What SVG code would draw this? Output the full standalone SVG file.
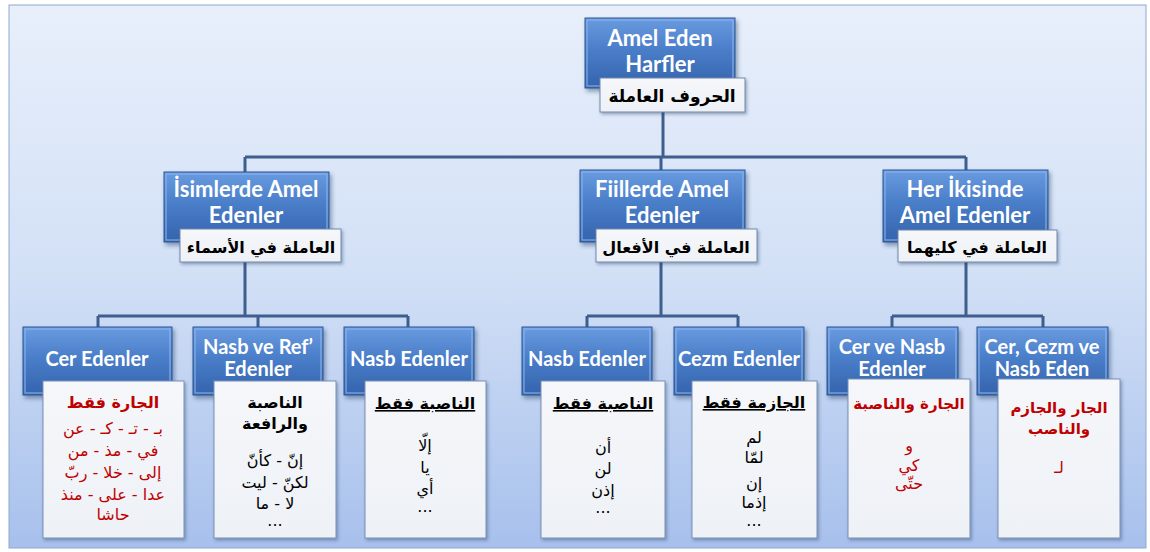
<svg xmlns="http://www.w3.org/2000/svg" width="1150" height="552" viewBox="0 0 1150 552">
<defs>
<linearGradient id="bg" x1="0" y1="0" x2="0" y2="1">
<stop offset="0" stop-color="#e8effb"/>
<stop offset="0.5" stop-color="#d2e0f6"/>
<stop offset="1" stop-color="#a7c0ec"/>
</linearGradient>
<linearGradient id="blue" x1="0" y1="0" x2="0" y2="1">
<stop offset="0" stop-color="#6a9be0"/>
<stop offset="0.45" stop-color="#4a7ec9"/>
<stop offset="1" stop-color="#3463ac"/>
</linearGradient>
<linearGradient id="panel" x1="0" y1="0" x2="0" y2="1">
<stop offset="0" stop-color="#f5f7fa"/>
<stop offset="1" stop-color="#eef1f6"/>
</linearGradient>
<filter id="sh" x="-10%" y="-10%" width="125%" height="130%">
<feDropShadow dx="2" dy="3" stdDeviation="2" flood-color="#1d3558" flood-opacity="0.45"/>
</filter>
<filter id="sh2" x="-10%" y="-10%" width="125%" height="130%">
<feDropShadow dx="1.5" dy="2" stdDeviation="1.5" flood-color="#2a3f60" flood-opacity="0.4"/>
</filter>
</defs>
<style>
.bx{fill:url(#blue);stroke:#2c5896;stroke-width:1;filter:url(#sh)}
.hl{fill:none;stroke:#8db5ee;stroke-width:1.5;stroke-opacity:0.7}
.lb{fill:url(#panel);stroke:#6f87ad;stroke-width:1;filter:url(#sh2)}
.pn{fill:url(#panel);stroke:#7890b5;stroke-width:1;filter:url(#sh2)}
.t{font-family:Lato,"Open Sans","Liberation Sans",sans-serif;font-weight:bold;fill:#ffffff;text-anchor:middle}
.t1{font-size:22px}
.t2{font-size:20px}
.ar{font-family:"DejaVu Sans","Noto Sans",sans-serif;text-anchor:middle;fill:#000000}
.a1{font-weight:bold;font-size:17px}
.a2{font-weight:bold;font-size:16px}
.ah{font-weight:bold;font-size:16px}
.ah2{font-weight:bold;font-size:15px}
.ab{font-size:16px}
.red{fill:#c00000}
.ul{text-decoration:underline}
.cn{fill:none;stroke:#3e5e8e;stroke-width:3}
</style>
<rect x="0" y="0" width="1150" height="552" fill="#ffffff"/>
<rect x="9" y="5" width="1137" height="543" fill="url(#bg)" stroke="#8fa8d0" stroke-width="1"/>

<g id="connectors" class="cn">
<path d="M663 112V157M245 157H966M245 157V172M661 157V170M966 157V170"/>
<path d="M245 262V316M661 262V316M966 262V316"/>
<path d="M98 316H408M98 316V327M258 316V327M408 316V327"/>
<path d="M587 316H738M587 316V327M738 316V327"/>
<path d="M892 316H1043M892 316V327M1043 316V327"/>
</g>

<g id="n-root">
<rect class="bx" x="585" y="18" width="150" height="70"/>
<rect class="hl" x="587" y="20" width="146" height="66"/>
<text class="t t1" x="660" y="46">Amel Eden</text>
<text class="t t1" x="660" y="72">Harfler</text>
<rect class="lb" x="600" y="78" width="145" height="34"/>
<text class="ar a1" x="672" y="102">الحروف العاملة</text>
</g>

<g id="n-isim">
<rect class="bx" x="164" y="172" width="165" height="70"/>
<rect class="hl" x="166" y="174" width="161" height="66"/>
<text class="t t1" x="246" y="197">İsimlerde Amel</text>
<text class="t t1" x="246" y="223">Edenler</text>
<rect class="lb" x="180" y="229" width="161" height="33"/>
<text class="ar a2" x="261" y="253">العاملة في الأسماء</text>
</g>

<g id="n-fiil">
<rect class="bx" x="580" y="170" width="165" height="72"/>
<rect class="hl" x="582" y="172" width="161" height="68"/>
<text class="t t1" x="662" y="197">Fiillerde Amel</text>
<text class="t t1" x="662" y="223">Edenler</text>
<rect class="lb" x="596" y="229" width="161" height="33"/>
<text class="ar a2" x="676" y="253">العاملة في الأفعال</text>
</g>

<g id="n-her">
<rect class="bx" x="883" y="170" width="165" height="72"/>
<rect class="hl" x="885" y="172" width="161" height="68"/>
<text class="t t1" x="965" y="197">Her İkisinde</text>
<text class="t t1" x="965" y="223">Amel Edenler</text>
<rect class="lb" x="898" y="230" width="159" height="32"/>
<text class="ar a2" x="977" y="253">العاملة في كليهما</text>
</g>

<g id="n-cer">
<rect class="bx" x="23" y="327" width="149" height="68"/>
<rect class="hl" x="25" y="329" width="145" height="64"/>
<text class="t t2" x="97" y="366">Cer Edenler</text>
<rect class="pn" x="43" y="381" width="141" height="157"/>
<text class="ar ah red" x="113" y="408">الجارة فقط</text>
<text class="ar ab red" x="113" y="434">بـ - تـ - كـ - عن</text>
<text class="ar ab red" x="113" y="456">في - مذ - من</text>
<text class="ar ab red" x="113" y="478">إلى - خلا - ربّ</text>
<text class="ar ab red" x="113" y="500">عدا - على - منذ</text>
<text class="ar ab red" x="113" y="520">حاشا</text>
</g>

<g id="n-nasbref">
<rect class="bx" x="193" y="327" width="130" height="68"/>
<rect class="hl" x="195" y="329" width="126" height="64"/>
<text class="t t2" x="258" y="354">Nasb ve Ref’</text>
<text class="t t2" x="258" y="376">Edenler</text>
<rect class="pn" x="214" y="381" width="122" height="157"/>
<text class="ar ah" x="275" y="408">الناصبة</text>
<text class="ar ah" x="275" y="429">والرافعة</text>
<text class="ar ab" x="275" y="466">إنّ - كأنّ</text>
<text class="ar ab" x="275" y="488">لكنّ - ليت</text>
<text class="ar ab" x="275" y="509">لا - ما</text>
<text class="ar ab" x="275" y="526">...</text>
</g>

<g id="n-nasb1">
<rect class="bx" x="344" y="327" width="130" height="68"/>
<rect class="hl" x="346" y="329" width="126" height="64"/>
<text class="t t2" x="409" y="366">Nasb Edenler</text>
<rect class="pn" x="365" y="381" width="121" height="157"/>
<text class="ar ah ul" x="425" y="409">الناصبة فقط</text>
<text class="ar ab" x="425" y="451">إلّا</text>
<text class="ar ab" x="425" y="473">يا</text>
<text class="ar ab" x="425" y="494">أي</text>
<text class="ar ab" x="425" y="512">...</text>
</g>

<g id="n-nasb2">
<rect class="bx" x="522" y="327" width="130" height="68"/>
<rect class="hl" x="524" y="329" width="126" height="64"/>
<text class="t t2" x="587" y="366">Nasb Edenler</text>
<rect class="pn" x="541" y="381" width="124" height="157"/>
<text class="ar ah ul" x="603" y="409">الناصبة فقط</text>
<text class="ar ab" x="603" y="453">أن</text>
<text class="ar ab" x="603" y="474">لن</text>
<text class="ar ab" x="603" y="496">إذن</text>
<text class="ar ab" x="603" y="513">...</text>
</g>

<g id="n-cezm">
<rect class="bx" x="674" y="327" width="130" height="68"/>
<rect class="hl" x="676" y="329" width="126" height="64"/>
<text class="t t2" x="739" y="366">Cezm Edenler</text>
<rect class="pn" x="692" y="381" width="125" height="157"/>
<text class="ar ah ul" x="754" y="408">الجازمة فقط</text>
<text class="ar ab" x="754" y="443">لم</text>
<text class="ar ab" x="754" y="463">لمّا</text>
<text class="ar ab" x="754" y="489">إن</text>
<text class="ar ab" x="754" y="508">إذما</text>
<text class="ar ab" x="754" y="526">...</text>
</g>

<g id="n-cernasb">
<rect class="bx" x="827" y="327" width="131" height="68"/>
<rect class="hl" x="829" y="329" width="127" height="64"/>
<text class="t t2" x="892" y="354">Cer ve Nasb</text>
<text class="t t2" x="892" y="376">Edenler</text>
<rect class="pn" x="848" y="379" width="122" height="159"/>
<text class="ar ah2 red" x="909" y="409">الجارة والناصبة</text>
<text class="ar ab red" x="909" y="451">و</text>
<text class="ar ab red" x="909" y="471">كي</text>
<text class="ar ab red" x="909" y="489">حتّى</text>
</g>

<g id="n-cercezm">
<rect class="bx" x="977" y="327" width="131" height="68"/>
<rect class="hl" x="979" y="329" width="127" height="64"/>
<text class="t t2" x="1042" y="354">Cer, Cezm ve</text>
<text class="t t2" x="1042" y="376">Nasb Eden</text>
<rect class="pn" x="998" y="379" width="122" height="159"/>
<text class="ar ah2 red" x="1059" y="413">الجار والجازم</text>
<text class="ar ah2 red" x="1059" y="434">والناصب</text>
<text class="ar ab red" x="1059" y="473">لـ</text>
</g>
</svg>
